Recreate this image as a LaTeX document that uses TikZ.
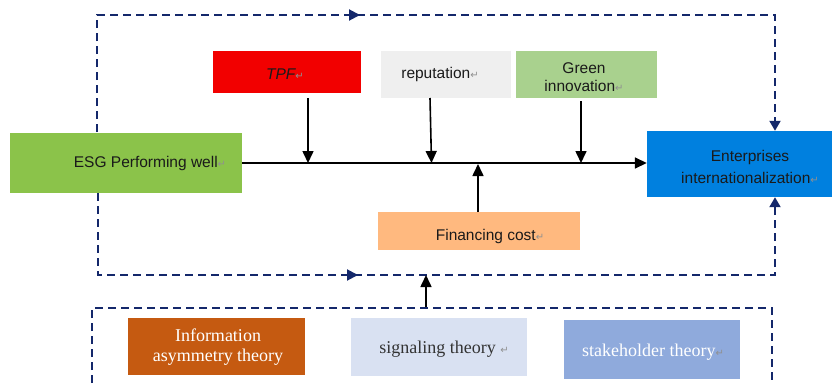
\documentclass[tikz,border=0pt]{standalone}
\usepackage{fontspec}
\setmainfont{Liberation Sans}
\newfontfamily\serifface{Liberation Serif}
\newfontfamily\symface{DejaVu Sans}
\usetikzlibrary{arrows.meta,decorations.markings}
\definecolor{esg}{HTML}{8BC34A}
\definecolor{tpf}{HTML}{F20000}
\definecolor{rep}{HTML}{EFEFEF}
\definecolor{gin}{HTML}{A9D18E}
\definecolor{ent}{HTML}{0080DF}
\definecolor{fin}{HTML}{FFB97F}
\definecolor{inf}{HTML}{C55A11}
\definecolor{sig}{HTML}{D9E1F2}
\definecolor{stk}{HTML}{8FAADC}
\definecolor{navy}{HTML}{14286B}
\definecolor{retgray}{HTML}{909090}
\definecolor{txt}{HTML}{1A1A1A}
\newcommand{\retmark}{{\symface\color{retgray}\fontsize{10}{10}\selectfont ↵}}
\begin{document}
\begin{tikzpicture}[x=1pt,y=-1pt,
  box/.style={draw=none,inner sep=0pt},
  lab/.style={inner sep=0pt,align=center,font=\fontsize{15.5}{18}\selectfont,text=txt},
  slab/.style={inner sep=0pt,align=center,font=\serifface\fontsize{18}{20}\selectfont},
  arr/.style={line width=1.6pt,-{Triangle[length=12pt,width=11pt]}},
  ndash/.style={draw=navy,line width=2pt,dash pattern=on 8pt off 5pt},
  ntip/.style={-{Triangle[length=10pt,width=11pt]}},
  midtip/.style={decoration={markings,mark=at position #1 with {\arrow[navy]{Triangle[length=11pt,width=11pt]}}},postaction={decorate}}
]
\useasboundingbox (0,0) rectangle (832,383);

% boxes
\node[box,fill=esg,minimum width=232,minimum height=60] (ESG) at (126,163) {};
\node[box,fill=tpf,minimum width=148,minimum height=42] (TPF) at (287,72) {};
\node[box,fill=rep,minimum width=130,minimum height=47] (REP) at (446,74.5) {};
\node[box,fill=gin,minimum width=141,minimum height=47] (GIN) at (586.5,74.5) {};
\node[box,fill=ent,minimum width=185,minimum height=66] (ENT) at (739.5,164) {};
\node[box,fill=fin,minimum width=202,minimum height=38] (FIN) at (479,231) {};
\node[box,fill=inf,minimum width=177,minimum height=57] (INF) at (216.5,346.5) {};
\node[box,fill=sig,minimum width=176,minimum height=58] (SIG) at (439,347) {};
\node[box,fill=stk,minimum width=176,minimum height=59] (STK) at (652,349.5) {};

% texts
\node[lab] (ESGt) at (150,163) {ESG Performing well\retmark};
\node[lab,font=\itshape\fontsize{15.5}{18}\selectfont] (TPFt) at (285,74) {TPF\retmark};
\node[lab] (REPt) at (440,74) {reputation\retmark};
\node[lab] (GINt) at (584,77) {Green\\innovation\retmark};
\node[lab,font=\fontsize{15.5}{22}\selectfont] (ENTt) at (750,167) {Enterprises\\internationalization\retmark};
\node[lab] (FINt) at (490,236) {Financing cost\retmark};
\node[slab,text=white] (INFt) at (218,347) {Information\\asymmetry theory};
\node[slab,text=black!80] (SIGt) at (444,349) {signaling theory \retmark};
\node[slab,text=white] (STKt) at (653,352) {stakeholder theory\retmark};

% main line
\draw[arr] (ESG.east) -- (ESG.east -| ENT.west);

% moderating arrows
\coordinate (tpfs) at (308,98);
\coordinate (reps) at (430,98);
\coordinate (gins) at (581,101);
\coordinate (fins) at (478,212);
\draw[arr] (tpfs) -- (tpfs |- ESG.east);
\draw[arr] (reps) -- ([xshift=1.5pt]reps |- ESG.east);
\draw[arr] (gins) -- (gins |- ESG.east);
\draw[arr] (fins) -- ([yshift=-1pt]fins |- ESG.east);

% top dashed path
\coordinate (tl0) at (97,132);
\coordinate (tl1) at (97,15);
\coordinate (tr1) at (775,15);
\draw[ndash,ntip,midtip=380pt] (tl0) -- (tl1) -- (tr1) -- (tr1 |- ENT.north);

% bottom dashed path
\coordinate (bl0) at (98,193);
\coordinate (bl1) at (98,275);
\coordinate (br1) at (775,275);
\draw[ndash,ntip,midtip=342pt] (bl0) -- (bl1) -- (br1) -- (br1 |- ENT.south);

% bottom dashed box (cut by picture edge)
\coordinate (bx0) at (92,383);
\coordinate (bx1) at (92,308);
\coordinate (bx2) at (772,308);
\coordinate (bx3) at (772,383);
\draw[ndash] (bx0) -- (bx1) -- (bx2) -- (bx3);

% arrow from theories to the lower path
\coordinate (thtop) at (426,307);
\draw[arr] (thtop) -- (thtop |- bl1);
\end{tikzpicture}
\end{document}
